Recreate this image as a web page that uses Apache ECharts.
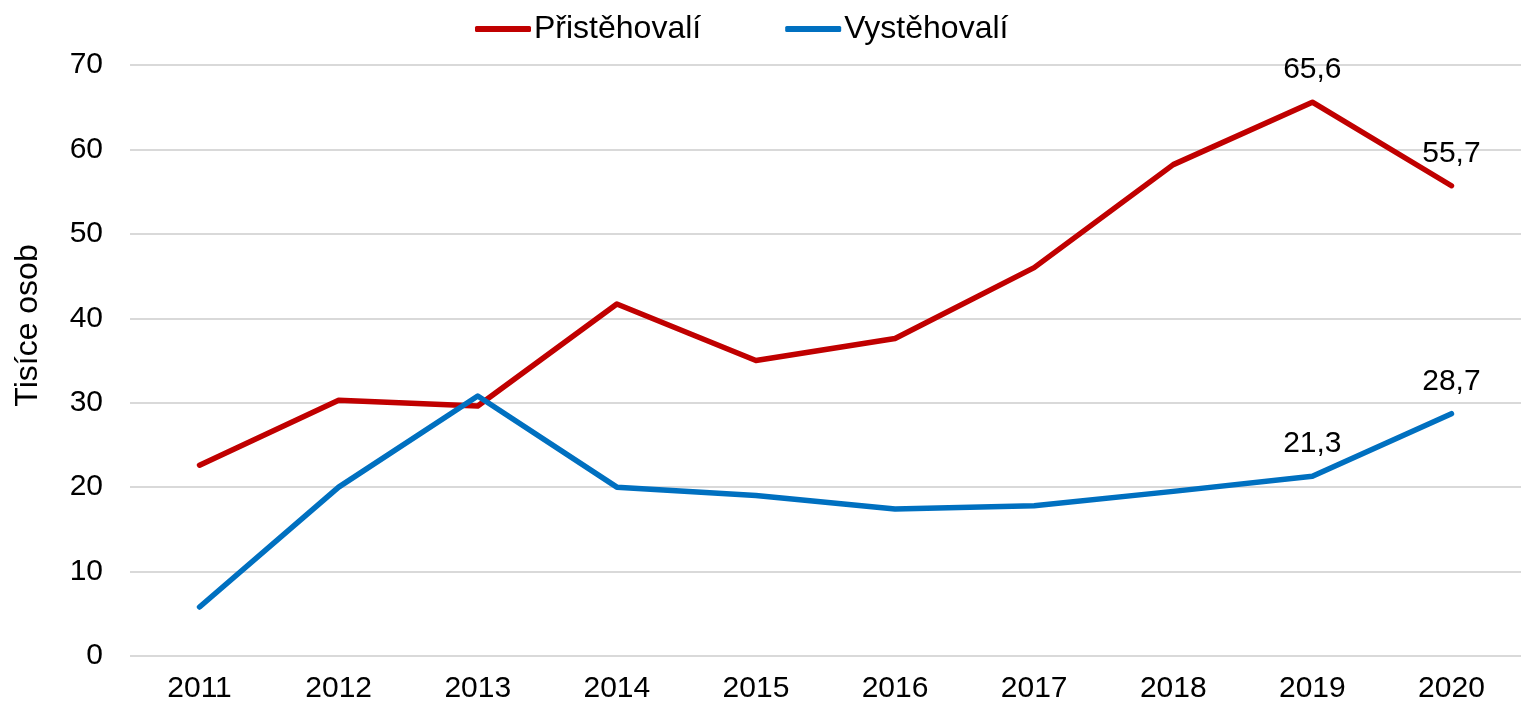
<!DOCTYPE html>
<html>
<head>
<meta charset="utf-8">
<script src="https://cdn.jsdelivr.net/npm/echarts@6/dist/echarts.min.js"></script>
<style>
html,body{margin:0;padding:0;background:#fff}
#chart{width:1521px;height:707px}
</style>
</head>
<body>
<div id="chart"></div>
<script>
var years = ['2011','2012','2013','2014','2015','2016','2017','2018','2019','2020'];
var prist = [22.6, 30.3, 29.6, 41.7, 35.0, 37.6, 46.0, 58.2, 65.6, 55.7];
var vyst = [5.8, 20.0, 30.8, 20.0, 19.0, 17.4, 17.8, 19.5, 21.3, 28.7];
var labelled = [8, 9]; // popisky jen u poslednich dvou let

function withLabels(arr){
        return arr.map(function(v, i){
                if (labelled.indexOf(i) < 0) return v;
                return {value: v, label: {show: true}};
        });
}

var myChart = echarts.init(document.getElementById('chart'));
var font = 'Liberation Sans, Arial, sans-serif';
var fs = 30;

function lineSeries(name, data, color){
        return {
                name: name,
                type: 'line',
                data: withLabels(data),
                symbol: 'circle',
                symbolSize: 0.01,
                showSymbol: true,
                lineStyle: {width: 5.5, color: color, cap: 'round', join: 'round'},
                itemStyle: {color: color},
                label: {
                        show: false, position: 'top', distance: 17,
                        fontSize: fs, color: '#000', fontFamily: font,
                        formatter: function(p){ return String(p.value).replace('.', ','); }
                }
        };
}

var option = {
        animation: false,
        textStyle: {fontFamily: font},
        legend: {
                top: 8,
                left: 470,
                icon: 'roundRect',
                itemWidth: 56,
                itemHeight: 6,
                itemGap: 84,
                textStyle: {fontSize: 32, color: '#000', fontFamily: font, padding: [0, 0, 0, -2]},
                data: ['Přistěhovalí', 'Vystěhovalí']
        },
        grid: {left: 130, right: 0, top: 65, bottom: 51},
        xAxis: {
                type: 'category',
                data: years,
                axisLine: {show: false},
                axisTick: {show: false},
                axisLabel: {fontSize: fs, color: '#000', margin: 18}
        },
        yAxis: {
                type: 'value',
                min: 0,
                max: 70,
                interval: 10,
                name: 'Tisíce osob',
                nameLocation: 'middle',
                nameGap: 86,
                nameTextStyle: {fontSize: 32, color: '#000', padding: [0, 0, 0, 70]},
                axisLabel: {fontSize: fs, color: '#000', margin: 27},
                splitLine: {lineStyle: {color: '#d9d9d9', width: 2}}
        },
        series: [
                lineSeries('Přistěhovalí', prist, '#c00000'),
                lineSeries('Vystěhovalí', vyst, '#0070c0')
        ]
};
myChart.setOption(option);
</script>
</body>
</html>
